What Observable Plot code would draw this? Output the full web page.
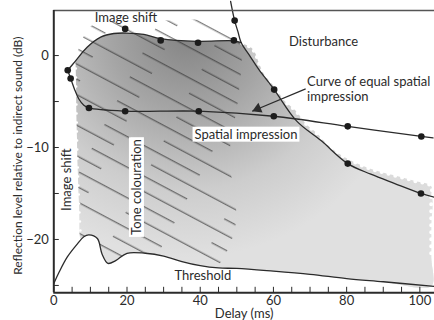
<!DOCTYPE html>
<html><head><meta charset="utf-8">
<script src="https://cdn.jsdelivr.net/npm/d3@7"></script>
<script src="https://cdn.jsdelivr.net/npm/@observablehq/plot@0.6"></script>
<style>
html,body{margin:0;padding:0;background:#fff;}
body{width:434px;height:320px;overflow:hidden;}
</style></head><body><div id="chart"></div>
<script>
// ---------- data (delay in ms, level in dB) ----------
const xDomain = [0, 104];
const yDomain = [-25.8, 4.9];
const xTickLabels = [0, 20, 40, 60, 80, 100];
const xMinorTicks = [0, 5, 10, 15, 20, 25, 30, 35, 40, 45, 50, 55, 60, 65, 70, 75, 80, 85, 90, 95, 100];
const yTickLabels = [0, -10, -20];
const yMinorTicks = [-25, -20, -15, -10, -5, 0];

const thresholdDelay = [0, 1.4, 3.7, 6.4, 8.2, 9.6, 11.9, 13.2, 14.8, 16.9, 20, 25, 30, 35, 40, 45, 50, 60, 70, 80, 90, 104];
const thresholdLevel = [-24.8, -23.6, -21.9, -20.5, -19.7, -19.5, -19.9, -21.6, -22.6, -22.3, -21.5, -21.5, -21.8, -22.4, -22.85, -23.1, -23.15, -23.45, -23.8, -24.25, -24.6, -25.1];

const imageShiftDelay = [3.8, 5.9, 9.1, 12.8, 16.4, 20, 24.6, 29.2, 39.2, 49.2, 51.2];
const imageShiftLevel = [-1.6, -0.6, 0.9, 2.0, 2.4, 2.45, 2.3, 1.85, 1.55, 1.6, 1.4];
const imageShiftDotDelay = [19.5, 29.2, 39.4, 49.2];
const imageShiftDotLevel = [2.9, 1.65, 1.4, 1.65];

const spatialDelay = [3.8, 4.6, 5.6, 6.8, 8.2, 9.6, 19.5, 39.6, 60.1, 80.3, 100.4, 103.6];
const spatialLevel = [-1.6, -2.5, -3.6, -4.7, -5.4, -5.7, -6.05, -6.05, -6.6, -7.7, -8.8, -8.95];
const spatialDotDelay = [3.8, 4.6, 9.6, 19.5, 39.6, 60.1, 80.3, 100.4];
const spatialDotLevel = [-1.6, -2.5, -5.7, -6.05, -6.05, -6.6, -7.7, -8.8];

const disturbanceDelay = [48.3, 49.4, 50.3, 51.2, 53.5, 56, 60.2, 66.3, 73, 80.3, 86.6, 93, 100.3, 104];
const disturbanceLevel = [5.9, 3.8, 2.6, 1.4, 0.0, -1.5, -3.7, -7.1, -9.25, -11.75, -12.9, -13.9, -15.0, -15.4];
const disturbanceDotDelay = [49.4, 60.2, 80.3, 100.3];
const disturbanceDotLevel = [3.8, -3.7, -11.75, -15.0];

// outline of the shaded (light grey) zone
const wavyEdgeDelay = [51.5, 53.8, 55.1, 56.1, 57.4, 59.2, 61.1, 62.9, 66.1, 68.8, 72.0, 75.6, 80.1, 86.5, 92.7, 98.2, 103.1];
const wavyEdgeLevel = [1.3, 0.9, 0.2, -0.9, -2.0, -2.9, -3.8, -4.9, -6.0, -7.4, -8.5, -10.0, -11.2, -12.3, -13.0, -13.6, -14.2];
const rightEdgeDelay = [103.1, 103.1, 103.1, 103.1];
const rightEdgeLevel = [-15.3, -18.5, -22, -25.05];
const leftEdgeDelay = [7.4, 7.0, 6.7, 6.4, 6.2, 6.1, 6.0];
const leftEdgeLevel = [-20.0, -17, -14, -10, -6, -3, -1.0];

// outline of the hatched (tone colouration) zone, upper/right part
const hatchOutlineDelay = [5.9, 7.5, 10.5, 25, 44, 50.6, 50.6, 48, 49.8, 49, 44];
const hatchOutlineLevel = [-0.6, 1.5, 3.3, 3.7, 3.6, 1.5, -4, -11, -16.5, -19.6, -23.1];

// arrow "Curve of equal spatial impression"
const arrowFrom = {delay: 68.8, level: -3.62};
const arrowTo = {delay: 54.2, level: -6.05};

// annotations
const labels = [
  {text: "Image shift", delay: 19.7, level: 4.1},
  {text: "Disturbance", delay: 73.7, level: 1.45},
  {text: "Threshold", delay: 40.7, level: -24.0}
];
const leftLabels = [{text: "Curve of equal spatial\nimpression", delay: 69.2, level: -3.57}];
const verticalLabels = [{text: "Image shift", delay: 3.66, level: -13.5}];
const boxedLabels = [{text: "Spatial impression", delay: 52.5, level: -8.64}];
const boxedVerticalLabels = [{text: "Tone colouration", delay: 22.8, level: -14.3}];
const xLabel = "Delay (ms)";
const yLabel = "Reflection level relative to indirect sound (dB)";

// ---------- tables ----------
const pts = (xs, ys) => xs.map((x, i) => ({delay: x, level: ys[i]}));
const threshold = pts(thresholdDelay, thresholdLevel);
const imageShift = pts(imageShiftDelay, imageShiftLevel);
const spatial = pts(spatialDelay, spatialLevel);
const disturbance = pts(disturbanceDelay, disturbanceLevel);
const topEdge = imageShift.slice(1);
const wavyEdge = pts(wavyEdgeDelay, wavyEdgeLevel);
const rightEdge = pts(rightEdgeDelay, rightEdgeLevel);
const leftEdge = pts(leftEdgeDelay, leftEdgeLevel);
const thresholdInnerRev = threshold.filter(d => d.delay >= 8 && d.delay < 103).reverse();
const regionLight = [...topEdge, ...wavyEdge, ...rightEdge, ...thresholdInnerRev, ...leftEdge];
const regionDark = [...topEdge, ...disturbance.filter(d => d.delay > 51.2 && d.delay < 103), ...rightEdge, ...thresholdInnerRev, ...leftEdge];
const regionHatch = [...pts(hatchOutlineDelay, hatchOutlineLevel), ...threshold.filter(d => d.delay >= 8 && d.delay < 44).reverse(), ...leftEdge];
const dots = [
  ...pts(imageShiftDotDelay, imageShiftDotLevel),
  ...pts(spatialDotDelay, spatialDotLevel),
  ...pts(disturbanceDotDelay, disturbanceDotLevel)
];

const ink = "#2b2b2b";
const xy = {x: "delay", y: "level"};

const svg = Plot.plot({
  width: 434, height: 320,
  marginLeft: 53.3, marginRight: 0, marginTop: 10, marginBottom: 27.7,
  x: {domain: xDomain, axis: null},
  y: {domain: yDomain, axis: null},
  style: {fontFamily: "Lato, 'Open Sans', sans-serif", fontSize: "13px", background: "white", color: ink, overflow: "visible"},
  marks: [
    Plot.line(regionLight, {...xy, fill: "url(#lightFill)", stroke: "none", curve: "catmull-rom"}),
    Plot.line(regionDark, {...xy, fill: "url(#darkFill)", stroke: "none", curve: "catmull-rom"}),
    Plot.line(regionHatch, {...xy, fill: "url(#hatch)", stroke: "none", curve: "catmull-rom"}),
    Plot.line(leftEdge, {...xy, stroke: "white", strokeWidth: 2.6, strokeDasharray: "0 9", strokeLinecap: "round"}),
    Plot.line([...wavyEdge, ...rightEdge.slice(0, 3)], {...xy, stroke: "white", strokeWidth: 4, strokeDasharray: "0 7", strokeLinecap: "round", curve: "catmull-rom"}),
    Plot.line(threshold, {...xy, stroke: ink, strokeWidth: 1.3, curve: "catmull-rom"}),
    Plot.line(imageShift, {...xy, stroke: ink, strokeWidth: 1.3, curve: "catmull-rom"}),
    Plot.line(spatial, {...xy, stroke: ink, strokeWidth: 1.3, curve: "catmull-rom"}),
    Plot.line(disturbance, {...xy, stroke: ink, strokeWidth: 1.3, curve: "catmull-rom"}),
    Plot.dot(dots, {...xy, r: 3.3, fill: "#1c1c1c", stroke: "none"}),
    Plot.link([{a: arrowFrom, b: arrowTo}], {x1: d => d.a.delay, y1: d => d.a.level, x2: d => d.b.delay, y2: d => d.b.level, stroke: ink, strokeWidth: 1.2}),
    Plot.dot([arrowTo], {...xy, symbol: "triangle", r: 3.9, rotate: 247, dx: 5.5, dy: -2.3, fill: ink, stroke: "none"}),
    Plot.text(boxedLabels, {...xy, text: "text", fill: ink, fontSize: 13}),
    Plot.text(boxedVerticalLabels, {...xy, text: "text", rotate: -90, fill: ink, fontSize: 13}),
    Plot.text(labels, {...xy, text: "text", fill: ink, fontSize: 13}),
    Plot.text(leftLabels, {...xy, text: "text", textAnchor: "start", lineHeight: 1.2, fill: ink, fontSize: 13}),
    Plot.text(verticalLabels, {...xy, text: "text", rotate: -90, fill: ink, fontSize: 13}),
    // frame
    Plot.ruleY([yDomain[1]], {stroke: "#555", strokeWidth: 1.5}),
    Plot.ruleX([xDomain[0]], {stroke: ink, strokeWidth: 2}),
    Plot.ruleY([yDomain[0]], {stroke: ink, strokeWidth: 2}),
    Plot.tickX(xMinorTicks, {x: d => d, insetTop: 282.3 - 5.5, stroke: ink, strokeWidth: 1}),
    Plot.tickY(yMinorTicks, {y: d => d, insetRight: 380.7 - 5.5, stroke: ink, strokeWidth: 1}),
    Plot.axisX({ticks: xTickLabels, tickSize: 0, tickPadding: 3, label: null, fontSize: 13, fill: ink}),
    Plot.axisY({ticks: yTickLabels, tickSize: 0, tickPadding: 5, label: null, fontSize: 13, fill: ink}),
    Plot.text([xLabel], {frameAnchor: "bottom", lineAnchor: "middle", dy: 21.5, fontSize: 13, fill: ink}),
    Plot.text([yLabel], {frameAnchor: "left", textAnchor: "middle", lineAnchor: "middle", rotate: -90, dx: -35.3, dy: 4, fontSize: 12, fill: ink})
  ]
});
document.getElementById("chart").appendChild(svg);

// ---------- paint servers (styling only) ----------
const NS = "http://www.w3.org/2000/svg";
function el(tag, attrs, parent) {
  const e = document.createElementNS(NS, tag);
  for (const k in attrs) e.setAttribute(k, attrs[k]);
  if (parent) parent.appendChild(e);
  return e;
}
const defs = el("defs", {});
svg.insertBefore(defs, svg.firstChild);
const lg = el("linearGradient", {id: "lightFill", gradientUnits: "userSpaceOnUse", x1: 0, y1: 40, x2: 0, y2: 210}, defs);
el("stop", {offset: 0, "stop-color": "#c6c6c6"}, lg);
el("stop", {offset: 1, "stop-color": "#e0e0e0"}, lg);
const rg = el("radialGradient", {id: "darkFill", gradientUnits: "userSpaceOnUse", cx: 188, cy: 32, r: 225}, defs);
[[0, "#838383"], [0.35, "#a5a5a5"], [0.7, "#cdcdcd"], [1, "#e0e0e0"]].forEach(([o, c]) => el("stop", {offset: o, "stop-color": c}, rg));
const pat = el("pattern", {id: "hatch", patternUnits: "userSpaceOnUse", width: 150, height: 27, patternTransform: "rotate(28)"}, defs);
const hs = {stroke: "#333", "stroke-width": 0.85};
el("line", {x1: 0, y1: 6.75, x2: 108, y2: 6.75, ...hs}, pat);
el("line", {x1: 60, y1: 20.25, x2: 150, y2: 20.25, ...hs}, pat);
el("line", {x1: 0, y1: 20.25, x2: 18, y2: 20.25, ...hs}, pat);

// white boxes behind boxed labels
const boxedTexts = new Set([...boxedLabels, ...boxedVerticalLabels].map(d => d.text));
svg.querySelectorAll("text").forEach(t => {
  if (!boxedTexts.has(t.textContent)) return;
  const b = t.getBBox();
  const r = document.createElementNS(NS, "rect");
  r.setAttribute("x", b.x - 2);
  r.setAttribute("y", b.y + 0.5);
  r.setAttribute("width", b.width + 4);
  r.setAttribute("height", b.height - 1);
  r.setAttribute("fill", "white");
  r.setAttribute("stroke", "none");
  if (t.getAttribute("transform")) r.setAttribute("transform", t.getAttribute("transform"));
  t.parentNode.insertBefore(r, t);
});
</script></body></html>
